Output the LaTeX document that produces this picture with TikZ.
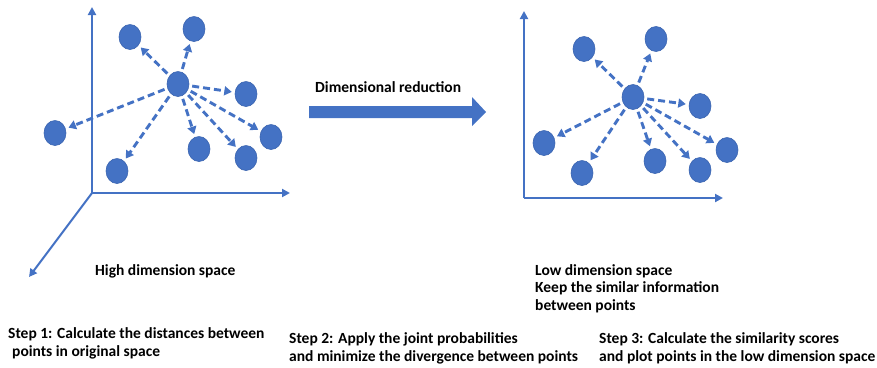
\documentclass[tikz,border=0pt]{standalone}
\usepackage{fontspec}
\setmainfont{Carlito}
\usetikzlibrary{shapes.geometric,arrows.meta}
\definecolor{ob}{HTML}{4472C4}
\definecolor{obd}{HTML}{3A64B0}
\begin{document}
\begin{tikzpicture}[x=1pt,y=-1pt,
  pt/.style={ellipse,fill=ob,draw=obd,line width=0.6pt,minimum width=22pt,minimum height=25pt,inner sep=0pt},
  darr/.style={draw=ob,line width=2.9pt,dash pattern=on 7pt off 4pt,-{Triangle[length=7.5pt,width=9pt]},shorten >=3pt,shorten <=3pt},
  axis/.style={draw=ob,line width=2pt,-{Triangle[length=8pt,width=8pt]}},
  lbl/.style={font=\bfseries\fontsize{15.5}{18}\selectfont,inner sep=0pt,anchor=base west}]
\useasboundingbox (0,0) rectangle (877,367);
% left panel axes
\coordinate (o1) at (92,193);
\coordinate (y1) at (92,7);
\coordinate (x1) at (290,193);
\coordinate (z1) at (29,277);
\draw[axis] (o1) -- (y1);
\draw[axis] (o1) -- (x1);
\draw[axis] (o1) -- (z1);
% left points
\node[pt] (c) at (178,84) {};
\node[pt] (a1) at (130,37) {};
\node[pt] (a2) at (194,29) {};
\node[pt] (a3) at (246,94) {};
\node[pt] (a4) at (55,133) {};
\node[pt] (a5) at (271,137) {};
\node[pt] (a6) at (199,149) {};
\node[pt] (a7) at (246,158) {};
\node[pt] (a8) at (117,171) {};
\foreach \t in {a1,a2,a3,a4,a5,a6,a7,a8} \draw[darr] (c) -- (\t);
\node[lbl] (hd) at (95,275) {High dimension space};
% middle arrow
\fill[ob] (309,106) -- (472,106) -- (472,97) -- (486,112) -- (472,126) -- (472,118) -- (309,118) -- cycle;
\node[lbl] (dr) at (315,92) {Dimensional reduction};
% right panel axes
\coordinate (o2) at (524,198);
\coordinate (y2) at (524,11);
\coordinate (x2) at (723,198);
\draw[axis] (o2) -- (y2);
\draw[axis] (o2) -- (x2);
\node[pt] (d) at (633,97) {};
\node[pt] (b1) at (584,49) {};
\node[pt] (b2) at (656,39) {};
\node[pt] (b3) at (700,106) {};
\node[pt] (b4) at (544,143) {};
\node[pt] (b5) at (727,150) {};
\node[pt] (b6) at (655,161) {};
\node[pt] (b7) at (700,170) {};
\node[pt] (b8) at (582,173) {};
\foreach \t in {b1,b2,b3,b4,b5,b6,b7,b8} \draw[darr] (d) -- (\t);
\node[lbl] (ld1) at (535,275) {Low dimension space};
\node[lbl] (ld2) at (535,292.5) {Keep the similar information};
\node[lbl] (ld3) at (535,310) {between points};
% steps
\node[lbl] (s1a) at (8,338) {Step 1: Calculate the distances between};
\node[lbl] (s1b) at (12,356) {points in original space};
\node[lbl] (s2a) at (289,343) {Step 2: Apply the joint probabilities};
\node[lbl] (s2b) at (289,361) {and minimize the divergence between points};
\node[lbl] (s3a) at (599,343) {Step 3: Calculate the similarity scores};
\node[lbl] (s3b) at (599,361) {and plot points in the low dimension space};
\end{tikzpicture}
\end{document}
